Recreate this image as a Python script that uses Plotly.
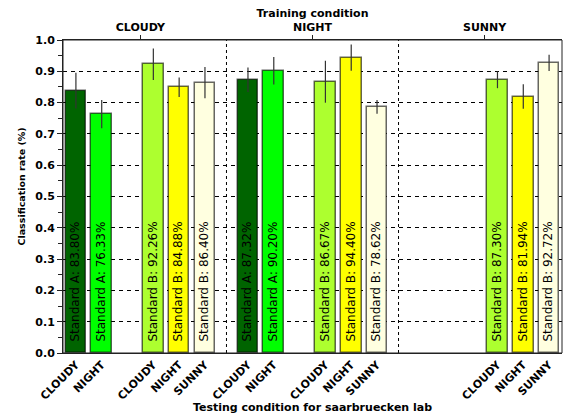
import plotly.graph_objects as go

# ---- data ----
training_conditions = ["CLOUDY", "NIGHT", "SUNNY"]
testing_conditions = ["CLOUDY", "NIGHT", "SUNNY"]

bar_training = ["CLOUDY", "CLOUDY", "CLOUDY", "CLOUDY", "CLOUDY",
                "NIGHT", "NIGHT", "NIGHT", "NIGHT", "NIGHT",
                "SUNNY", "SUNNY", "SUNNY"]
bar_standard = ["A", "A", "B", "B", "B",
                "A", "A", "B", "B", "B",
                "B", "B", "B"]
bar_testing = ["CLOUDY", "NIGHT", "CLOUDY", "NIGHT", "SUNNY",
               "CLOUDY", "NIGHT", "CLOUDY", "NIGHT", "SUNNY",
               "CLOUDY", "NIGHT", "SUNNY"]
rates = [0.8380, 0.7633, 0.9226, 0.8488, 0.8640,
         0.8732, 0.9020, 0.8667, 0.9440, 0.7862,
         0.8730, 0.8194, 0.9272]
errors = [0.057, 0.045, 0.050, 0.031, 0.050,
          0.039, 0.044, 0.067, 0.042, 0.022,
          0.027, 0.039, 0.026]

colors = {("A", "CLOUDY"): "#006400", ("A", "NIGHT"): "#00FF00",
          ("B", "CLOUDY"): "#ADFF2F", ("B", "NIGHT"): "#FFFF00",
          ("B", "SUNNY"): "#FFFFE0"}

# ---- layout of slots ----
GROUP_STEP = 20 / 3
def slot(tr, std, te):
    g = training_conditions.index(tr)
    s = (0 if std == "A" else 3) + testing_conditions.index(te)
    return g * GROUP_STEP + s

xs = [slot(t, s, e) for t, s, e in zip(bar_training, bar_standard, bar_testing)]
bar_colors = [colors[(s, e)] for s, e in zip(bar_standard, bar_testing)]
texts = [f"Standard {s}: {r*100:.2f}%" for s, r in zip(bar_standard, rates)]
group_centers = [g * GROUP_STEP + 2.5 for g in range(len(training_conditions))]
boundaries = [(group_centers[i] + group_centers[i + 1]) / 2 for i in range(len(group_centers) - 1)]
xrange = [-0.5, group_centers[-1] + 3.0]

FONT = "DejaVu Sans"

fig = go.Figure()
fig.add_trace(go.Bar(
    x=xs, y=rates, width=0.8,
    marker=dict(color=bar_colors, line=dict(color="rgba(0,0,0,0.6)", width=1.5)),
    error_y=dict(type="data", array=errors, visible=True, width=0, thickness=1.2, color="#333333"),
    text=texts, texttemplate="\u00a0\u00a0%{text}",
    textposition="inside", insidetextanchor="start", textangle=-90,
    insidetextfont=dict(family=FONT, size=12, color="black"),
    constraintext="none", showlegend=False, hoverinfo="skip",
))
fig.add_trace(go.Scatter(x=group_centers, y=[None] * len(group_centers), xaxis="x2",
                         showlegend=False, hoverinfo="skip"))

for b in boundaries:
    fig.add_shape(type="line", x0=b, x1=b, y0=0, y1=1, xref="x", yref="paper",
                  line=dict(color="black", width=1, dash="3px,3px"))

axis_common = dict(showline=True, linecolor="#222", linewidth=1, mirror=False, automargin=False,
                   tickfont=dict(family=FONT, size=11, color="black", weight="bold"))

fig.update_layout(
    width=568, height=414,
    margin=dict(l=63, r=6, t=40, b=61),
    plot_bgcolor="white", paper_bgcolor="white",
    bargap=0,
    xaxis=dict(range=xrange, tickvals=xs, ticktext=bar_testing, tickangle=-45,
               ticks="", showgrid=False, zeroline=False,
               title=dict(text="Testing condition for saarbruecken lab",
                          font=dict(family=FONT, size=11, color="black", weight="bold"), standoff=0),
               **axis_common),
    xaxis2=dict(overlaying="x", side="top", range=xrange, tickvals=group_centers,
                ticktext=training_conditions, ticks="outside", ticklen=4, tickcolor="#222",
                showgrid=False, zeroline=False,
                title=dict(text="Training condition",
                           font=dict(family=FONT, size=11, color="black", weight="bold"), standoff=0),
                **axis_common),
    yaxis=dict(range=[0, 1.0], dtick=0.1, tickformat=".1f", ticks="outside", ticklen=5,
               tickcolor="#222", showgrid=True, gridcolor="black", griddash="4px,4px", gridwidth=1,
               zeroline=False,
               minor=dict(dtick=0.05, ticks="outside", ticklen=4, tickcolor="#222", showgrid=False),
               **axis_common),
)
fig.add_annotation(text="Classification rate (%)", textangle=-90, showarrow=False,
                   xref="paper", yref="paper", x=-0.084, y=0.532,
                   xanchor="center", yanchor="middle",
                   font=dict(family=FONT, size=9.5, color="black", weight="bold"))
fig.add_shape(type="rect", x0=0, x1=1, y0=0, y1=1, xref="paper", yref="paper",
              line=dict(color="#222", width=1), layer="above")

fig.write_html("out.html", config={"displayModeBar": False},
               post_script="document.body.style.margin='0px';document.body.style.overflow='hidden';")
